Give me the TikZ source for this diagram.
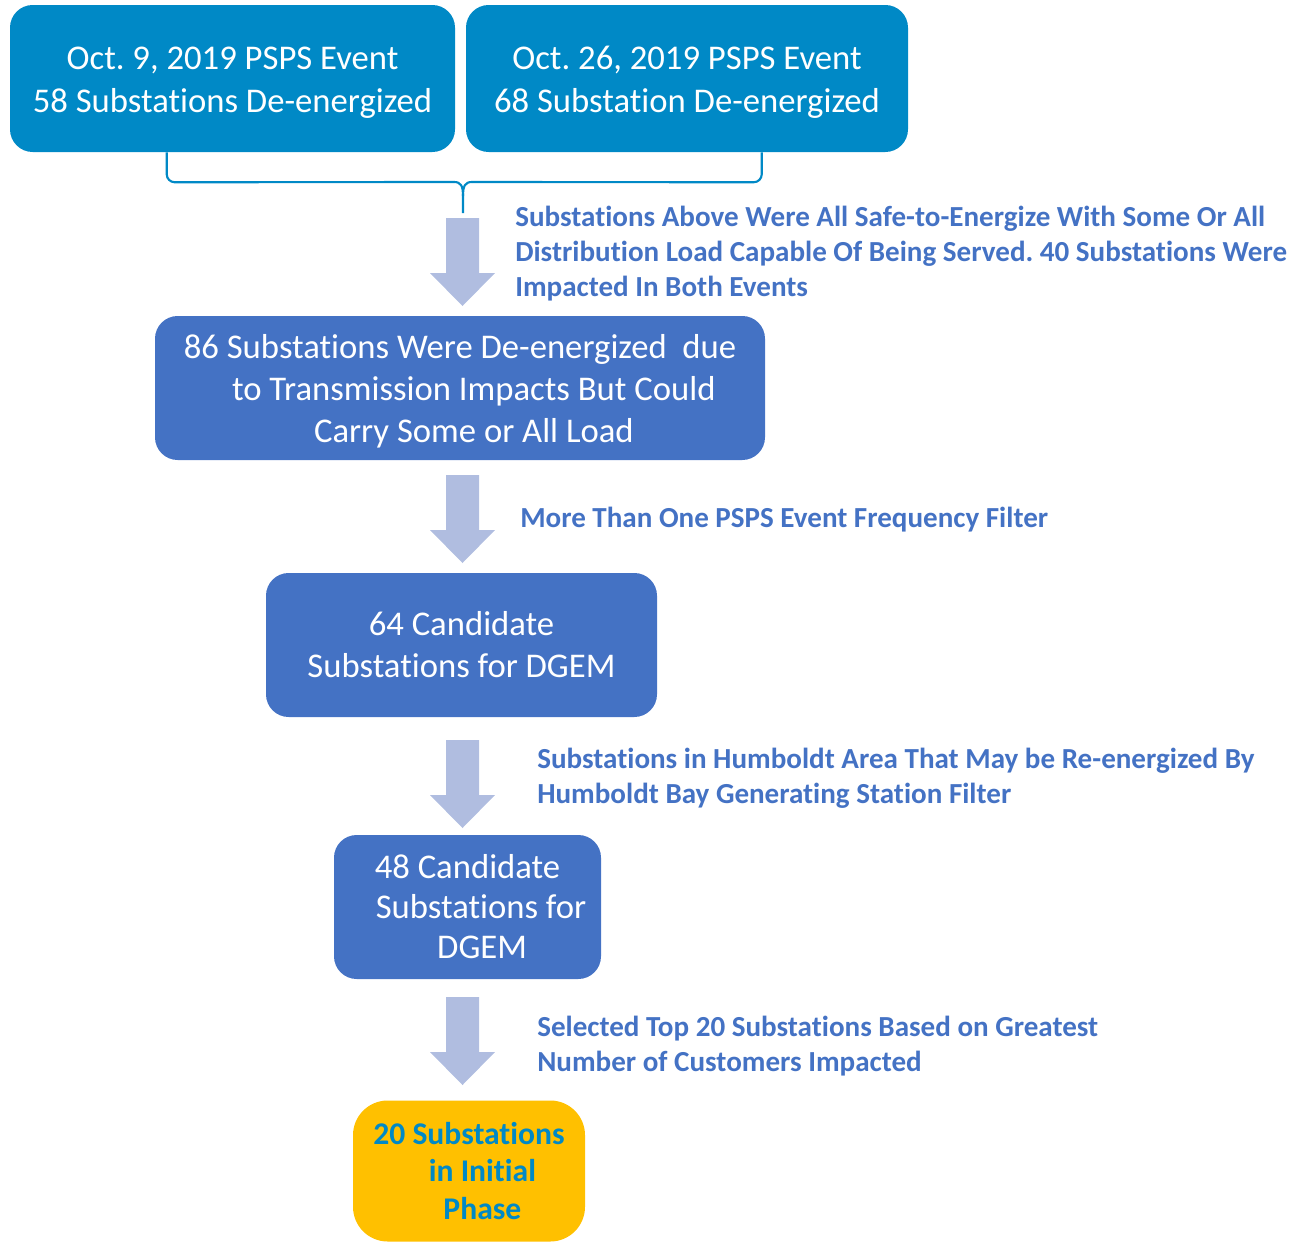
\documentclass[tikz,border=0pt]{standalone}
\usepackage{fontspec}
\setmainfont{Carlito}[Ligatures={NoCommon}]
\usetikzlibrary{calc}
\definecolor{topblue}{HTML}{0089C6}
\definecolor{midblue}{HTML}{4472C4}
\definecolor{arrowfill}{HTML}{B0BDE0}
\definecolor{gold}{HTML}{FFC000}
\definecolor{labelblue}{HTML}{4472C4}
\frenchspacing
\begin{document}
\begin{tikzpicture}[x=0.75pt,y=-0.75pt,
  topbox/.style={fill=topblue,text=white,rounded corners=17pt,inner sep=0pt,align=center,
    font=\fontsize{26}{32}\selectfont},
  midbox/.style={fill=midblue,text=white,rounded corners=17pt,inner sep=0pt,align=center,
    font=\fontsize{26}{31.5}\selectfont},
  goldbox/.style={fill=gold,text=topblue,rounded corners=26pt,inner sep=0pt,align=center,
    font=\fontsize{23.7}{27.8}\selectfont\bfseries},
  steplabel/.style={text=labelblue,anchor=west,align=left,inner sep=0pt,
    font=\fontsize{21.8}{26.25}\selectfont\bfseries},
  bracepath/.style={draw=topblue,line width=1.6pt},
  barrow/.pic={\fill[arrowfill] (-16.5,0) -- (16.5,0) -- (16.5,55) -- (32.5,55) -- (0,88) -- (-32.5,55) -- (-16.5,55) -- cycle;}
]
\useasboundingbox (0,0) rectangle (1300,1242);

% boxes
\node[topbox,minimum width=445*0.75pt,minimum height=147*0.75pt] (b1) at (232.5,78.5)
  {\rule{0pt}{23pt}Oct. 9, 2019 PSPS Event\\58 Substations De-energized};
\node[topbox,minimum width=442*0.75pt,minimum height=147*0.75pt] (b2) at (687,78.5)
  {\rule{0pt}{23pt}Oct. 26, 2019 PSPS Event\\68 Substation De-energized};
\node[midbox,minimum width=610*0.75pt,minimum height=144*0.75pt] (b3) at (460,388)
  {\rule{0pt}{23pt}86 Substations Were De-energized\ \ due\\\hspace*{0.8em}to Transmission Impacts But Could\\\hspace*{0.8em}Carry Some or All Load};
\node[midbox,minimum width=391*0.75pt,minimum height=144*0.75pt] (b4) at (461.5,645)
  {64 Candidate\\Substations for DGEM};
\node[midbox,minimum width=267*0.75pt,minimum height=144*0.75pt,font=\fontsize{26}{30}\selectfont] (b5) at (467.5,907)
  {48 Candidate\\\hspace*{0.78em}Substations for\\\hspace*{0.84em}DGEM};
\node[goldbox,minimum width=232*0.75pt,minimum height=141*0.75pt] (b6) at (469,1171)
  {20 Substations\\\hspace*{0.85em}in Initial\\\hspace*{0.85em}Phase};

% brace joining the two events
\coordinate (tip) at (463,213);
\draw[bracepath,rounded corners=6pt] ([xshift=157*0.75pt]b1.south west) -- ++(0,30) -- (454,182);
\draw[bracepath,rounded corners=6pt] ([xshift=296*0.75pt]b2.south west) -- ++(0,30) -- (472,182);
\draw[bracepath] (454,182) .. controls (461,182) and (463,186) .. (463,196) -- (tip);
\draw[bracepath] (472,182) .. controls (465,182) and (463,186) .. (463,196);

% block arrows
\pic at (462.5,218) {barrow};
\pic at (462.5,475) {barrow};
\pic at (462.5,740) {barrow};
\pic at (462.5,997) {barrow};

% labels
\node[steplabel] (l1) at (515,254)
  {Substations Above Were All Safe-to-Energize With Some Or All\\Distribution Load Capable Of Being Served. 40 Substations Were\\Impacted In Both Events};
\node[steplabel] (l2) at (520,520) {More Than One PSPS Event Frequency Filter};
\node[steplabel] (l3) at (537,778.5)
  {Substations in Humboldt Area That May be Re-energized By\\Humboldt Bay Generating Station Filter};
\node[steplabel] (l4) at (537,1046)
  {Selected Top 20 Substations Based on Greatest\\Number of Customers Impacted};
\end{tikzpicture}
\end{document}
